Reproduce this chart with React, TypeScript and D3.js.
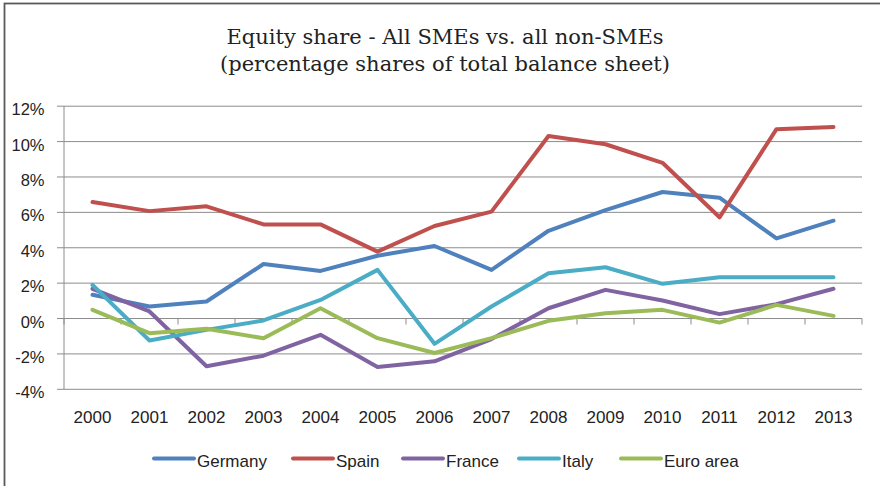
import React from "react";
import * as d3 from "d3";

const years = ["2000","2001","2002","2003","2004","2005","2006","2007","2008","2009","2010","2011","2012","2013"];
const germany = [1.34, 0.68, 0.96, 3.08, 2.69, 3.55, 4.1, 2.75, 4.96, 6.13, 7.15, 6.83, 4.53, 5.53];
const spain = [6.58, 6.07, 6.34, 5.32, 5.32, 3.78, 5.23, 6.04, 10.32, 9.85, 8.8, 5.72, 10.7, 10.83];
const france = [1.68, 0.4, -2.7, -2.1, -0.92, -2.74, -2.42, -1.16, 0.58, 1.62, 1.02, 0.25, 0.81, 1.68];
const italy = [1.9, -1.24, -0.64, -0.11, 1.05, 2.75, -1.43, 0.68, 2.56, 2.9, 1.96, 2.33, 2.33, 2.33];
const euroArea = [0.49, -0.83, -0.58, -1.11, 0.58, -1.11, -1.95, -1.11, -0.13, 0.3, 0.49, -0.23, 0.77, 0.15];
const yTicks = [-4, -2, 0, 2, 4, 6, 8, 10, 12];

const series = [
  { name: "Germany", values: germany, color: "#4F81BD" },
  { name: "Spain", values: spain, color: "#C0504D" },
  { name: "France", values: france, color: "#8064A2" },
  { name: "Italy", values: italy, color: "#4BACC6" },
  { name: "Euro area", values: euroArea, color: "#9BBB59" },
];

const legendX = [154, 293, 403, 519, 621];

const App = () => {
  const width = 880;
  const height = 486;
  const left = 64;
  const right = 862;
  const top = 106.2;
  const bottom = 389.3;

  const x = d3.scaleBand().domain(years).range([left, right]);
  const y = d3.scaleLinear().domain([-4, 12]).range([bottom, top]);
  const cx = (yr: string) => (x(yr) as number) + x.bandwidth() / 2;

  const line = d3
    .line<number>()
    .x((_, i) => cx(years[i]))
    .y((d) => y(d));

  const font = "'Liberation Sans', Arial, sans-serif";
  const grid = "#8c8c8c";

  return (
    <div style={{ position: "absolute", left: 0, top: 0 }}>
      <svg width={width} height={height} style={{ display: "block" }}>
        <rect x={0} y={0} width={width} height={height} fill="#fff" />
        <rect x={4.5} y={3.5} width={width + 10} height={height + 10} fill="none" stroke="#5a5a5a" strokeWidth={1.8} />

        <text x={445} y={43.5} textAnchor="middle" fontFamily="'DejaVu Serif', serif" fontSize={21} fill="#222">
          Equity share - All SMEs vs. all non-SMEs
        </text>
        <text x={445} y={70.5} textAnchor="middle" fontFamily="'DejaVu Serif', serif" fontSize={21} fill="#222">
          (percentage shares of total balance sheet)
        </text>

        {yTicks.map((t) => (
          <g key={t}>
            <line x1={left - 7} x2={right} y1={y(t)} y2={y(t)} stroke={grid} strokeWidth={1} />
            <text x={44.5} y={y(t) + 9} textAnchor="end" fontFamily={font} fontSize={16.5} fill="#222">
              {t}%
            </text>
          </g>
        ))}
        <line x1={left} x2={left} y1={top} y2={bottom} stroke={grid} strokeWidth={1} />

        {years.map((yr) => (
          <line key={"t" + yr} x1={x(yr) as number} x2={x(yr) as number} y1={y(0)} y2={y(0) + 6} stroke={grid} strokeWidth={1} />
        ))}
        <line x1={right} x2={right} y1={y(0)} y2={y(0) + 6} stroke={grid} strokeWidth={1} />

        {years.map((yr) => (
          <text key={yr} x={cx(yr)} y={422.5} textAnchor="middle" fontFamily={font} fontSize={17} fill="#222">
            {yr}
          </text>
        ))}

        {series.map((s) => (
          <path key={s.name} d={line(s.values) || ""} fill="none" stroke={s.color} strokeWidth={4} strokeLinejoin="round" strokeLinecap="round" />
        ))}

        {series.map((s, i) => (
          <g key={"l" + s.name}>
            <line x1={legendX[i]} x2={legendX[i] + 40} y1={458.5} y2={458.5} stroke={s.color} strokeWidth={4} strokeLinecap="round" />
            <text x={legendX[i] + 43} y={466.5} fontFamily={font} fontSize={17} fill="#222">
              {s.name}
            </text>
          </g>
        ))}
      </svg>
    </div>
  );
};

export default App;
